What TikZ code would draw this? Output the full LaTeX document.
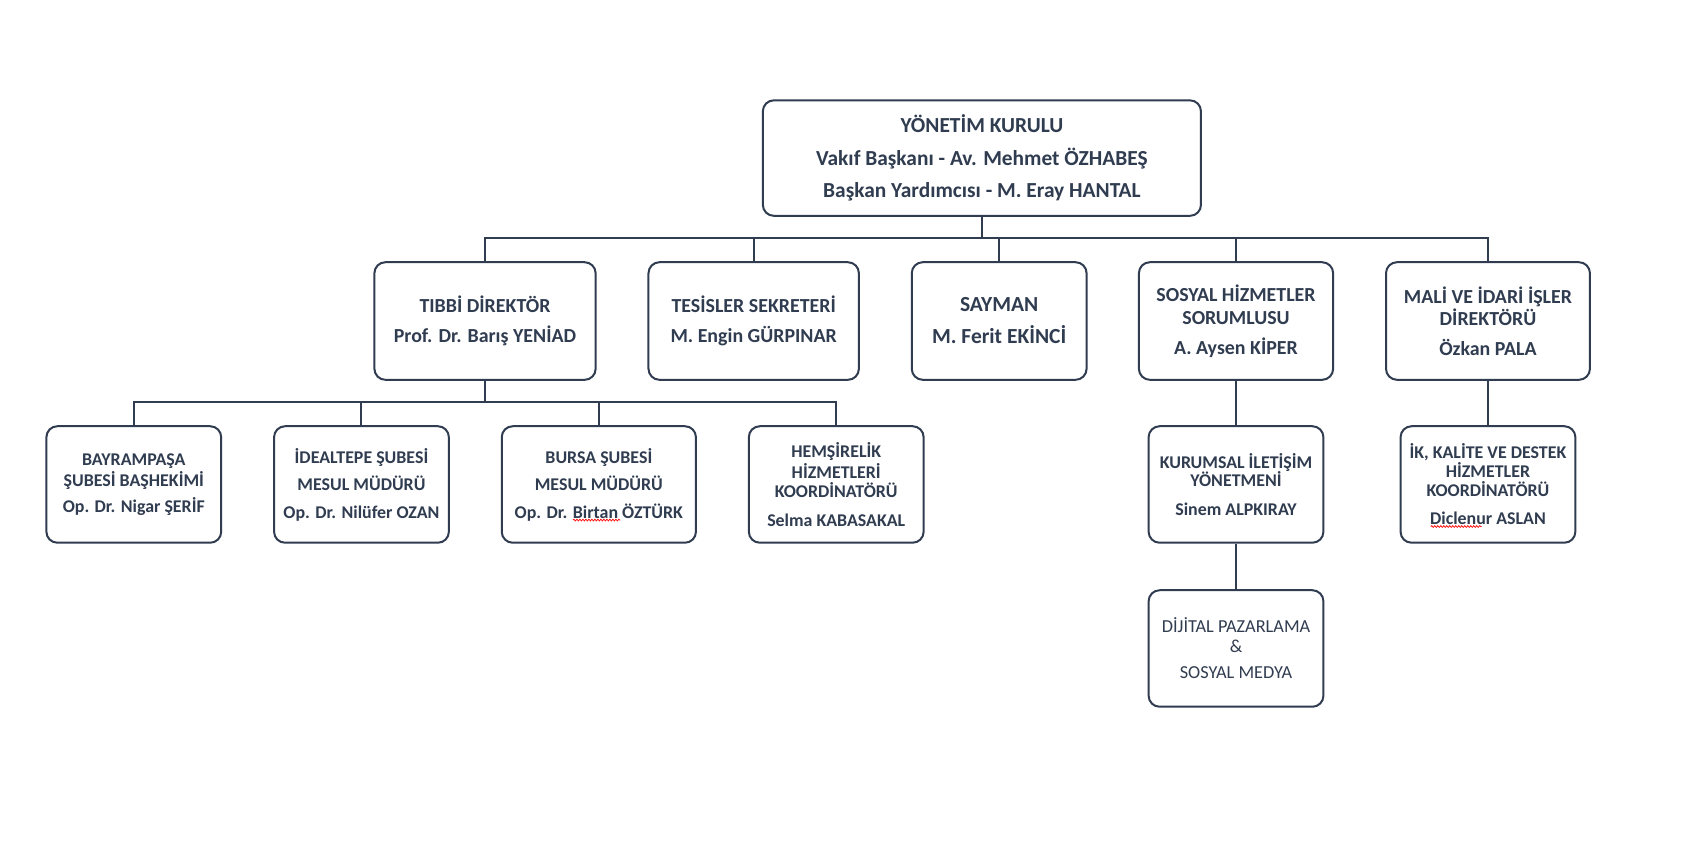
\documentclass[tikz,border=0pt]{standalone}
\usepackage{fontspec}
\setmainfont{Carlito}
\usetikzlibrary{decorations.pathmorphing}
\definecolor{navy}{RGB}{48,60,80}
\begin{document}
\begin{tikzpicture}[x=1.079pt,y=-1.079pt,
  box/.style={draw=navy, line width=2pt, rounded corners=11pt, align=center, text=navy, inner sep=0pt, fill=white},
  topfont/.style={font=\fontsize{21.4}{32.4}\selectfont\bfseries},
  midfont/.style={font=\fontsize{19.9}{22.5}\selectfont\bfseries},
  bigmidfont/.style={font=\fontsize{21.5}{22.5}\selectfont\bfseries},
  lowfont/.style={font=\fontsize{17.9}{19}\selectfont\bfseries},
  plainfont/.style={font=\fontsize{18.3}{20.5}\selectfont},
  tier2/.style={box, midfont, minimum height=117.6pt},
  tier3/.style={box, lowfont, minimum width=174.8pt, minimum height=116.5pt},
  link/.style={draw=navy, line width=2pt},
  spell/.style={draw=red, line width=0.7pt, decorate, decoration={snake, amplitude=0.9pt, segment length=3pt}}]
\useasboundingbox[fill=white] (0,0) rectangle (1568.1,801.7);

% top
\node[box, topfont, minimum width=438.1pt, minimum height=115.5pt] (top) at (910,146.5)
  {YÖNETİM KURULU\\Vakıf Başkanı - Av. Mehmet ÖZHABEŞ\\Başkan Yardımcısı - M. Eray HANTAL};

% tier 2
\node[tier2, minimum width=221.2pt] (tibbi) at (449.5,297.5)
  {TIBBİ DİREKTÖR\\[7.5pt]Prof. Dr. Barış YENİAD};
\node[tier2, minimum width=210.4pt] (tesis) at (698.5,297.5)
  {TESİSLER SEKRETERİ\\[7.5pt]M. Engin GÜRPINAR};
\node[tier2, bigmidfont, minimum width=174.8pt] (sayman) at (926,297.5)
  {SAYMAN\\[9.5pt]M. Ferit EKİNCİ};
\node[tier2, minimum width=194.2pt] (sosyal) at (1145.5,297.5)
  {SOSYAL HİZMETLER\\SORUMLUSU\\[7.5pt]A. Aysen KİPER};
\node[tier2, minimum width=203.9pt] (mali) at (1379,297.5)
  {MALİ VE İDARİ İŞLER\\DİREKTÖRÜ\\[7.5pt]Özkan PALA};

% tier 3
\node[tier3] (bayram) at (124,449)
  {BAYRAMPAŞA\\[1.5pt]ŞUBESİ BAŞHEKİMİ\\[7pt]Op. Dr. Nigar ŞERİF};
\node[tier3] (ideal) at (335,449)
  {İDEALTEPE ŞUBESİ\\[8pt]MESUL MÜDÜRÜ\\[9pt]Op. Dr. Nilüfer OZAN};
\node[tier3, minimum width=194.2pt] (bursa) at (555,449)
  {BURSA ŞUBESİ\\[8pt]MESUL MÜDÜRÜ\\[9pt]Op. Dr. Birtan ÖZTÜRK};
\node[tier3] (hemsire) at (775,449)
  {HEMŞİRELİK\\[1.5pt]HİZMETLERİ\\KOORDİNATÖRÜ\\[10pt]Selma KABASAKAL};
\node[tier3] (kurumsal) at (1145.5,449)
  {KURUMSAL İLETİŞİM\\[-1pt]YÖNETMENİ\\[10pt]Sinem ALPKIRAY};
\node[tier3] (ik) at (1379,449)
  {İK, KALİTE VE DESTEK\\HİZMETLER\\KOORDİNATÖRÜ\\[9pt]Diclenur ASLAN};

% tier 4
\node[tier3, plainfont] (dijital) at (1145.5,601)
  {DİJİTAL PAZARLAMA\\[-1pt]\&\\[6pt]SOSYAL MEDYA};

% spell-check marks
\draw[spell] (531,482) -- (575,482);
\draw[spell] (1326,488) -- (1373,488);

% connectors
\coordinate (busA) at (910,221);
\coordinate (busB) at (449,373);
\draw[link] (top.south) -- (top.south |- busA);
\draw[link] (tibbi.north) -- (tibbi.north |- busA) -- (mali.north |- busA) -- (mali.north);
\draw[link] (tesis.north) -- (tesis.north |- busA);
\draw[link] (sayman.north) -- (sayman.north |- busA);
\draw[link] (sosyal.north) -- (sosyal.north |- busA);

\draw[link] (tibbi.south) -- (tibbi.south |- busB);
\draw[link] (bayram.north) -- (bayram.north |- busB) -- (hemsire.north |- busB) -- (hemsire.north);
\draw[link] (ideal.north) -- (ideal.north |- busB);
\draw[link] (bursa.north) -- (bursa.north |- busB);

\draw[link] (sosyal.south) -- (kurumsal.north);
\draw[link] (kurumsal.south) -- (dijital.north);
\draw[link] (mali.south) -- (ik.north);
\end{tikzpicture}
\end{document}
